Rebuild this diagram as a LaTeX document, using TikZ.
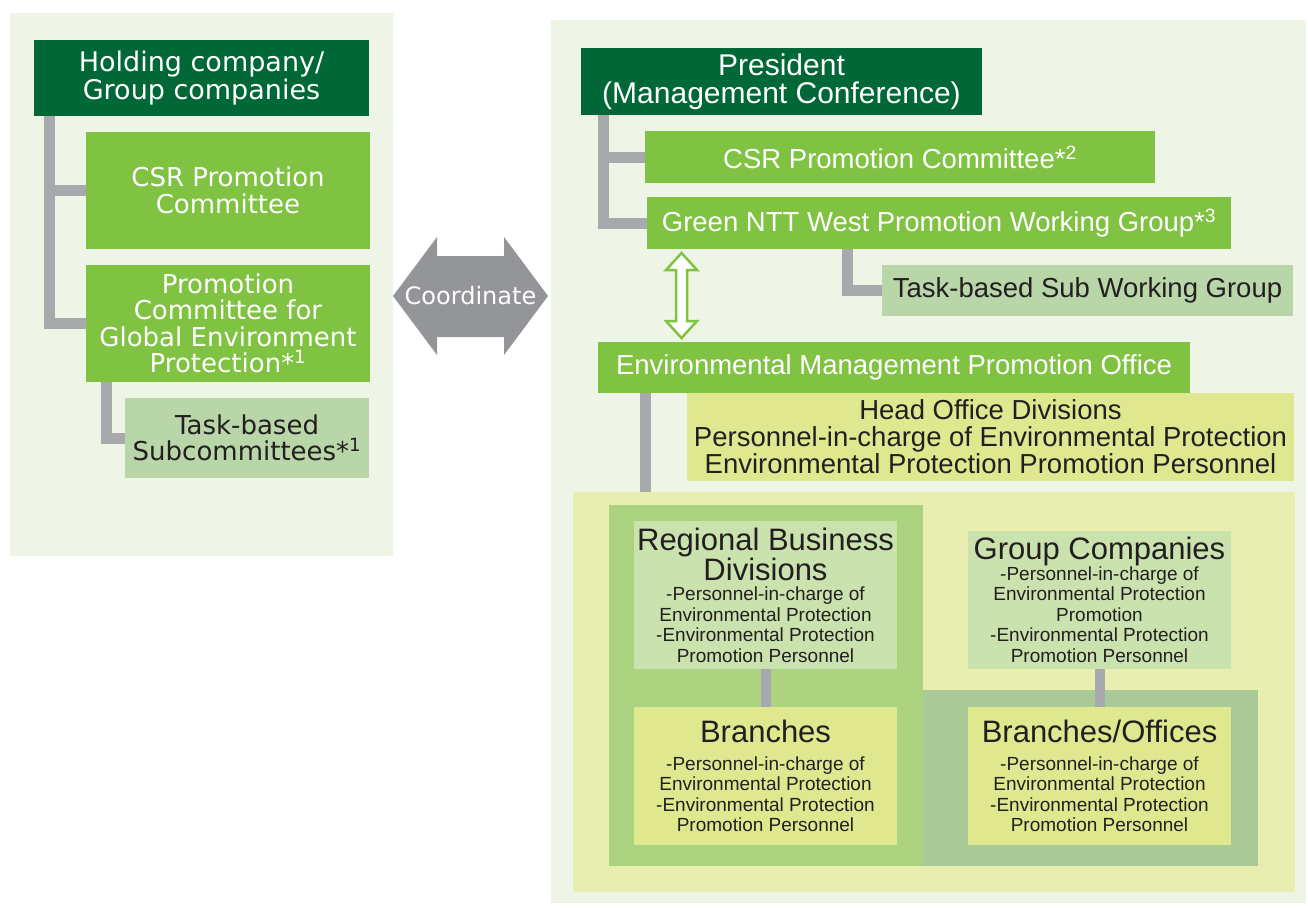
\documentclass[tikz,border=0pt]{standalone}
\usepackage{fontspec}
\setmainfont{Liberation Sans}
\newfontfamily\roundfont{DejaVu Sans}

\definecolor{panel}{HTML}{EEF4E6}
\definecolor{darkgreen}{HTML}{006837}
\definecolor{midgreen}{HTML}{80C241}
\definecolor{palegreen}{HTML}{B9D6A8}
\definecolor{lightyellow}{HTML}{E8EEB0}
\definecolor{yellowgreen}{HTML}{DFE88F}
\definecolor{regionbg}{HTML}{ABD37F}
\definecolor{groupbg}{HTML}{A9C996}
\definecolor{regionbox}{HTML}{C9E2AE}
\definecolor{linkgray}{HTML}{A7A9AC}
\definecolor{arrowgray}{HTML}{939598}
\definecolor{ink}{HTML}{231F20}

\newcommand\lefttext{\roundfont\fontsize{26}{26.5}\selectfont}
\newcommand\righttext{\fontsize{27.5}{27}\selectfont}
\newcommand\unittitle{\fontsize{31}{31}\selectfont}
\newcommand\unitbody{\fontsize{19}{20.5}\selectfont}

\tikzset{
    box/.style={anchor=north west, inner sep=0pt, outer sep=0pt, align=center},
    darkbox/.style={box, fill=darkgreen, text=white},
    greenbox/.style={box, fill=midgreen, text=white},
    palebox/.style={box, fill=palegreen, text=ink},
    yellowbox/.style={box, fill=yellowgreen, text=ink},
    regbox/.style={box, fill=regionbox, text=ink},
    unitbox/.style={minimum width=263pt, font=\unitbody},
    link/.style={draw=linkgray, line width=11pt},
}

\begin{document}
\begin{tikzpicture}[x=1pt, y=-1pt]

    \useasboundingbox (0,0) rectangle (1308,907);

    \fill[panel] (10,13) rectangle (393,556);  % left panel
    \fill[panel] (551,20) rectangle (1306,903);  % right panel

    % holding company side
    \node[darkbox, minimum width=335pt, minimum height=76pt, font=\roundfont\fontsize{27}{26}\selectfont] (holding) at (34,40) {Holding company/\\Group companies};
    \node[greenbox, minimum width=284pt, minimum height=117pt, font=\lefttext] (leftcsr) at (86,132) {CSR Promotion\\Committee};
    \node[greenbox, minimum width=284pt, minimum height=117pt, font=\lefttext] (globalenv) at (86,265) {Promotion\\Committee for\\Global Environment\\Protection*\textsuperscript{1}};
    \node[palebox, minimum width=244pt, minimum height=80pt, font=\lefttext] (subcomm) at (125,398) {Task-based\\Subcommittees*\textsuperscript{1}};

    \draw[link] ([xshift=15.5pt]holding.south west) |- (leftcsr.west);
    \draw[link] ([xshift=15.5pt]holding.south west) |- (globalenv.west);
    \draw[link] ([xshift=20pt]globalenv.south west) |- (subcomm.west);

    % coordinate arrow
    \fill[arrowgray] (393,296) -- (437,237) -- (437,256) -- (504,256) -- (504,237) -- (548,296)
        -- (504,355) -- (504,337) -- (437,337) -- (437,355) -- cycle;
    \node[text=white, font=\roundfont\fontsize{24}{24}\selectfont] (coordinate) at (470.5,296) {Coordinate};

    % NTT West side
    \node[darkbox, minimum width=401pt, minimum height=67pt, font=\fontsize{30}{28}\selectfont] (president) at (581,48) {President\\(Management Conference)};
    \node[greenbox, minimum width=510pt, minimum height=52pt, font=\righttext] (csr) at (645,131) {CSR Promotion Committee*\textsuperscript{2}};
    \node[greenbox, minimum width=584pt, minimum height=52pt, font=\righttext] (greenwg) at (647,197) {Green NTT West Promotion Working Group*\textsuperscript{3}};
    \node[palebox, minimum width=411pt, minimum height=51pt, font=\righttext] (subwg) at (882,265) {Task-based Sub Working Group};
    \node[greenbox, minimum width=592pt, minimum height=51pt, font=\righttext] (envoffice) at (598,342) {Environmental Management Promotion Office};
    \node[yellowbox, minimum width=607pt, minimum height=88pt, font=\righttext] (headoffice) at (687,393) {Head Office Divisions\\Personnel-in-charge of Environmental Protection\\Environmental Protection Promotion Personnel};

    \draw[link] ([xshift=22.5pt]president.south west) |- (csr.west);
    \draw[link] ([xshift=22.5pt]president.south west) |- (greenwg.west);
    \draw[link] ([xshift=200.5pt]greenwg.south west) |- (subwg.west);

    \draw[midgreen, fill=white, line width=2.5pt] ([xshift=34.5pt, yshift=-4pt]greenwg.south west)
        -- ++(15.5,17) -- ++(-10,0) -- ++(0,51) -- ++(10,0) -- ++(-15.5,17)
        -- ++(-15.5,-17) -- ++(10,0) -- ++(0,-51) -- ++(-10,0) -- cycle;  % two-way arrow

    % regional units
    \node[box, fill=lightyellow, minimum width=722pt, minimum height=400pt] (units) at (573,492) {};
    \node[box, fill=regionbg, minimum width=314pt, minimum height=361pt] (regionarea) at (609,505) {};
    \node[box, fill=groupbg, minimum width=335pt, minimum height=176pt] (grouparea) at (923,690) {};

    \draw[link] ([xshift=47.5pt]envoffice.south west) coordinate (e1) -- (e1 |- units.north);

    \node[regbox, unitbox, minimum height=148pt] (regional) at (634,521)
        {\unittitle Regional Business\\\unittitle Divisions\\-Personnel-in-charge of\\Environmental Protection\\-Environmental Protection\\Promotion Personnel};
    \node[yellowbox, unitbox, minimum height=138pt] (branches) at (634,707)
        {\unittitle Branches\\[7pt]-Personnel-in-charge of\\Environmental Protection\\-Environmental Protection\\Promotion Personnel};
    \node[regbox, unitbox, minimum height=138pt] (groupco) at (968,531)
        {\unittitle Group Companies\\-Personnel-in-charge of\\Environmental Protection\\Promotion\\-Environmental Protection\\Promotion Personnel};
    \node[yellowbox, unitbox, minimum height=138pt] (offices) at (968,707)
        {\unittitle Branches/Offices\\[7pt]-Personnel-in-charge of\\Environmental Protection\\-Environmental Protection\\Promotion Personnel};

    \draw[link, line width=10pt] (regional.south) -- (branches.north);
    \draw[link, line width=10pt] (groupco.south) -- (offices.north);

\end{tikzpicture}
\end{document}
